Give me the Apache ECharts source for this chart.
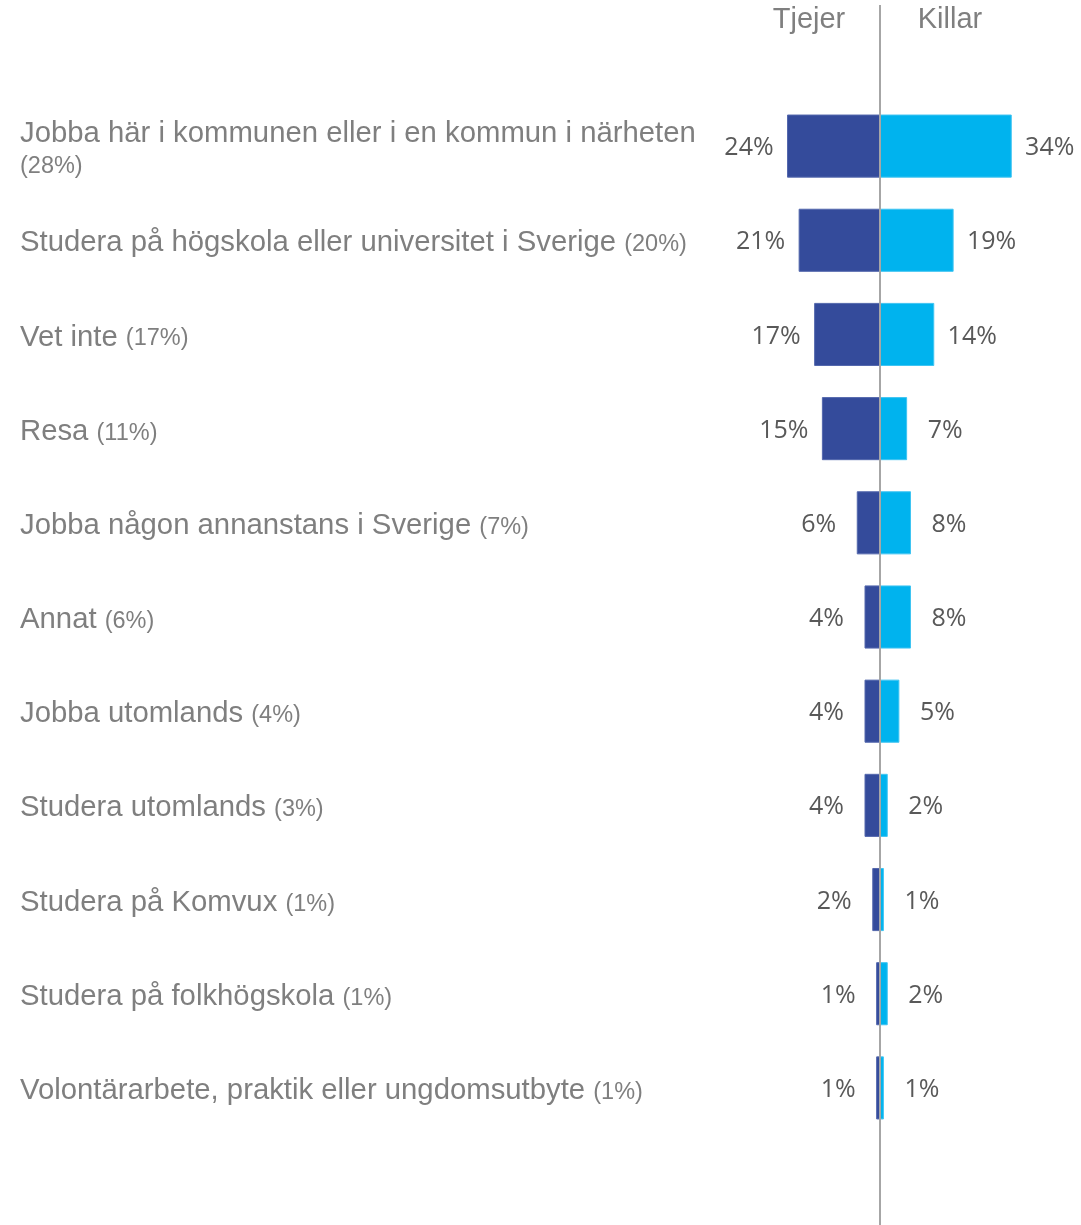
<!DOCTYPE html>
<html>
<head>
<meta charset="utf-8">
<script src="https://cdn.jsdelivr.net/npm/echarts@6/dist/echarts.min.js"></script>
<style>
  html, body { margin: 0; padding: 0; background: #fff; }
  #chart { width: 1081px; height: 1225px; }
</style>
</head>
<body>
<div id="chart"></div>
<script>
// Survey answers, top to bottom
const categories = [
  'Jobba här i kommunen eller i en kommun i närheten',
  'Studera på högskola eller universitet i Sverige',
  'Vet inte',
  'Resa',
  'Jobba någon annanstans i Sverige',
  'Annat',
  'Jobba utomlands',
  'Studera utomlands',
  'Studera på Komvux',
  'Studera på folkhögskola',
  'Volontärarbete, praktik eller ungdomsutbyte'
];
// Share of all respondents (shown in parentheses)
const totals = [28, 20, 17, 11, 7, 6, 4, 3, 1, 1, 1];
// Per group, percent
const tjejer = [24, 21, 17, 15, 6, 4, 4, 4, 2, 1, 1];
const killar = [34, 19, 14, 7, 8, 8, 5, 2, 1, 2, 1];
const groupNames = ['Tjejer', 'Killar'];

// Categories whose label wraps the share onto a second line
const wrapShare = [true, false, false, false, false, false, false, false, false, false, false];

const GRAY = '#7f7f7f';
const chart = echarts.init(document.getElementById('chart'));

const valueLabel = {
  show: true,
  align: 'center',
  distance: 38,
  offset: [0, 2],
  fontFamily: 'Open Sans',
  fontSize: 25,
  color: '#595959',
  formatter: p => Math.abs(p.value) + '%'
};

chart.setOption({
  animation: false,
  grid: { left: 725, width: 310, top: 99, height: 1036 },
  xAxis: { type: 'value', min: -40, max: 40, show: false },
  yAxis: {
    type: 'category',
    data: categories,
    inverse: true,
    axisLine: { show: false },
    axisTick: { show: false },
    splitLine: { show: false },
    axisLabel: {
      align: 'left',
      margin: 705,
      padding: [4, 0, 0, 0],
      formatter: (v, i) => '{m|' + v + (wrapShare[i] ? '}\n' : ' }') + '{s|(' + totals[i] + '%)}',
      rich: {
        m: { fontFamily: 'Liberation Sans', fontSize: 29.3, color: GRAY, lineHeight: 31, verticalAlign: 'bottom' },
        s: { fontFamily: 'Liberation Sans', fontSize: 23.5, color: GRAY, lineHeight: 31, verticalAlign: 'bottom', padding: [0, 0, 1, 0] }
      }
    }
  },
  series: [
    {
      name: groupNames[0],
      type: 'bar',
      stack: 'grupp',
      barWidth: '67%',
      data: tjejer.map(v => -v),
      itemStyle: { color: '#344b9b', borderColor: '#5468ad', borderWidth: 1 },
      label: Object.assign({ position: 'left' }, valueLabel)
    },
    {
      name: groupNames[1],
      type: 'bar',
      stack: 'grupp',
      barWidth: '67%',
      data: killar,
      itemStyle: { color: '#00b3ee', borderColor: '#3fc4f2', borderWidth: 1 },
      label: Object.assign({ position: 'right' }, valueLabel)
    }
  ]
});

// Zero line and group headings, placed from the axis scale
const zeroX = chart.convertToPixel({ xAxisIndex: 0 }, 0);
chart.setOption({
  graphic: [
    {
      type: 'line', z: 100,
      shape: { x1: zeroX, y1: 5, x2: zeroX, y2: 1225 },
      style: { stroke: '#a6a6a6', lineWidth: 2 }
    },
    {
      type: 'text', z: 100, x: zeroX - 71, y: 20,
      style: { text: groupNames[0], fill: GRAY, font: '29px "Liberation Sans"', align: 'center', verticalAlign: 'middle' }
    },
    {
      type: 'text', z: 100, x: zeroX + 70, y: 20,
      style: { text: groupNames[1], fill: GRAY, font: '29px "Liberation Sans"', align: 'center', verticalAlign: 'middle' }
    }
  ]
});
</script>
</body>
</html>
